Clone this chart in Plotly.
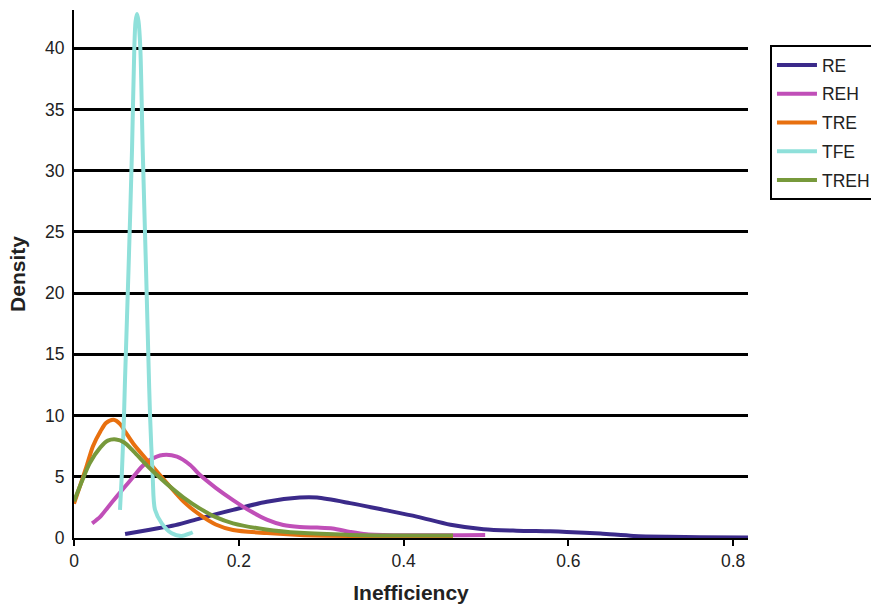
import plotly.graph_objects as go

# ---- data ----
RE_x = [0.062, 0.092, 0.123, 0.153, 0.193, 0.234, 0.274, 0.295, 0.335, 0.376, 0.416,
        0.457, 0.497, 0.537, 0.578, 0.598, 0.639, 0.679, 0.720, 0.760, 0.818]
RE_y = [0.33, 0.68, 1.05, 1.6, 2.3, 2.96, 3.3, 3.3, 2.85, 2.3, 1.75,
        1.08, 0.72, 0.6, 0.55, 0.5, 0.36, 0.17, 0.1, 0.07, 0.05]

REH_x = [0.022, 0.032, 0.041, 0.052, 0.062, 0.072, 0.082, 0.092, 0.108, 0.125, 0.141, 0.153,
         0.172, 0.193, 0.214, 0.234, 0.254, 0.274, 0.295, 0.314, 0.335, 0.355, 0.396, 0.499]
REH_y = [1.2, 1.75, 2.5, 3.4, 4.2, 5.0, 5.8, 6.37, 6.78, 6.64, 5.96, 5.14,
         4.1, 3.1, 2.2, 1.5, 1.06, 0.9, 0.85, 0.78, 0.5, 0.3, 0.22, 0.25]

TRE_x = [0.0, 0.007, 0.015, 0.023, 0.032, 0.039, 0.048, 0.056, 0.063, 0.072, 0.092,
         0.113, 0.133, 0.153, 0.172, 0.193, 0.234, 0.274, 0.335, 0.396, 0.460]
TRE_y = [2.8, 4.2, 5.8, 7.5, 8.7, 9.4, 9.65, 9.3, 8.6, 7.7, 6.1,
         4.47, 2.97, 1.88, 1.1, 0.65, 0.4, 0.25, 0.17, 0.15, 0.15]

TFE_x = [0.0558, 0.0579, 0.0607, 0.0619, 0.0662, 0.0704, 0.0732, 0.0747, 0.0765, 0.0783, 0.0805,
         0.0834, 0.0874, 0.0910, 0.0923, 0.0955, 0.0983, 0.1065, 0.1186, 0.1307, 0.1408, 0.1441]
TFE_y = [2.3, 5, 10, 12.9, 22, 31.7, 40, 42.2, 42.8, 42.2, 40,
         31.7, 22, 12.9, 10, 5, 2.3, 1.2, 0.38, 0.16, 0.38, 0.47]

TREH_x = [0.0, 0.010, 0.019, 0.032, 0.041, 0.051, 0.061, 0.072, 0.092, 0.113, 0.133,
          0.153, 0.172, 0.193, 0.233, 0.274, 0.335, 0.396, 0.460]
TREH_y = [3.0, 4.7, 6.1, 7.4, 7.95, 8.05, 7.8, 7.1, 5.7, 4.4, 3.3,
          2.4, 1.7, 1.2, 0.7, 0.42, 0.25, 0.2, 0.2]

x_ticks = [0, 0.2, 0.4, 0.6, 0.8]
x_tick_labels = ["0", "0.2", "0.4", "0.6", "0.8"]
y_ticks = [0, 5, 10, 15, 20, 25, 30, 35, 40]

series = [
    ("RE", RE_x, RE_y, "#3b2a8a"),
    ("REH", REH_x, REH_y, "#c04fb8"),
    ("TRE", TRE_x, TRE_y, "#e8700f"),
    ("TFE", TFE_x, TFE_y, "#8fe0da"),
    ("TREH", TREH_x, TREH_y, "#77993b"),
]

FONT = "Liberation Sans, Arial, Helvetica, sans-serif"

fig = go.Figure()
for name, xs, ys, col in series:
    fig.add_trace(go.Scatter(
        x=xs, y=ys, name=name, mode="lines", legendgroup=name,
        line=dict(color=col, width=4, shape="spline", smoothing=0.8),
    ))

fig.update_layout(
    width=871, height=604,
    margin=dict(l=74, r=123, t=10, b=66, autoexpand=False),
    paper_bgcolor="white", plot_bgcolor="white",
    font=dict(family=FONT, size=17.5, color="#222"),
    showlegend=True,
    legend=dict(
        x=1.0326, y=0.9337, xanchor="left", yanchor="top",
        bordercolor="black", borderwidth=2, bgcolor="white",
        font=dict(family=FONT, size=17.5, color="#222"),
        traceorder="grouped", tracegroupgap=3, itemwidth=40,
    ),
    xaxis=dict(
        range=[0, 0.818], tickvals=x_ticks, ticktext=x_tick_labels,
        showgrid=False, zeroline=False,
        showline=True, linecolor="black", linewidth=2,
        ticks="outside", ticklen=6, tickwidth=2, tickcolor="black",
        title=dict(text="<b>Inefficiency</b>", font=dict(family=FONT, size=21, color="#222"),
                   standoff=17),
    ),
    yaxis=dict(
        range=[0, 43.13], tickvals=y_ticks,
        showgrid=True, gridcolor="black", gridwidth=2.5,
        zeroline=False,
        showline=True, linecolor="black", linewidth=2,
        ticks="outside", ticklen=4, tickcolor="rgba(0,0,0,0)",
        title=dict(text="<b>Density</b>", font=dict(family=FONT, size=21, color="#222"),
                   standoff=14),
    ),
)

fig.write_html("out.html")
